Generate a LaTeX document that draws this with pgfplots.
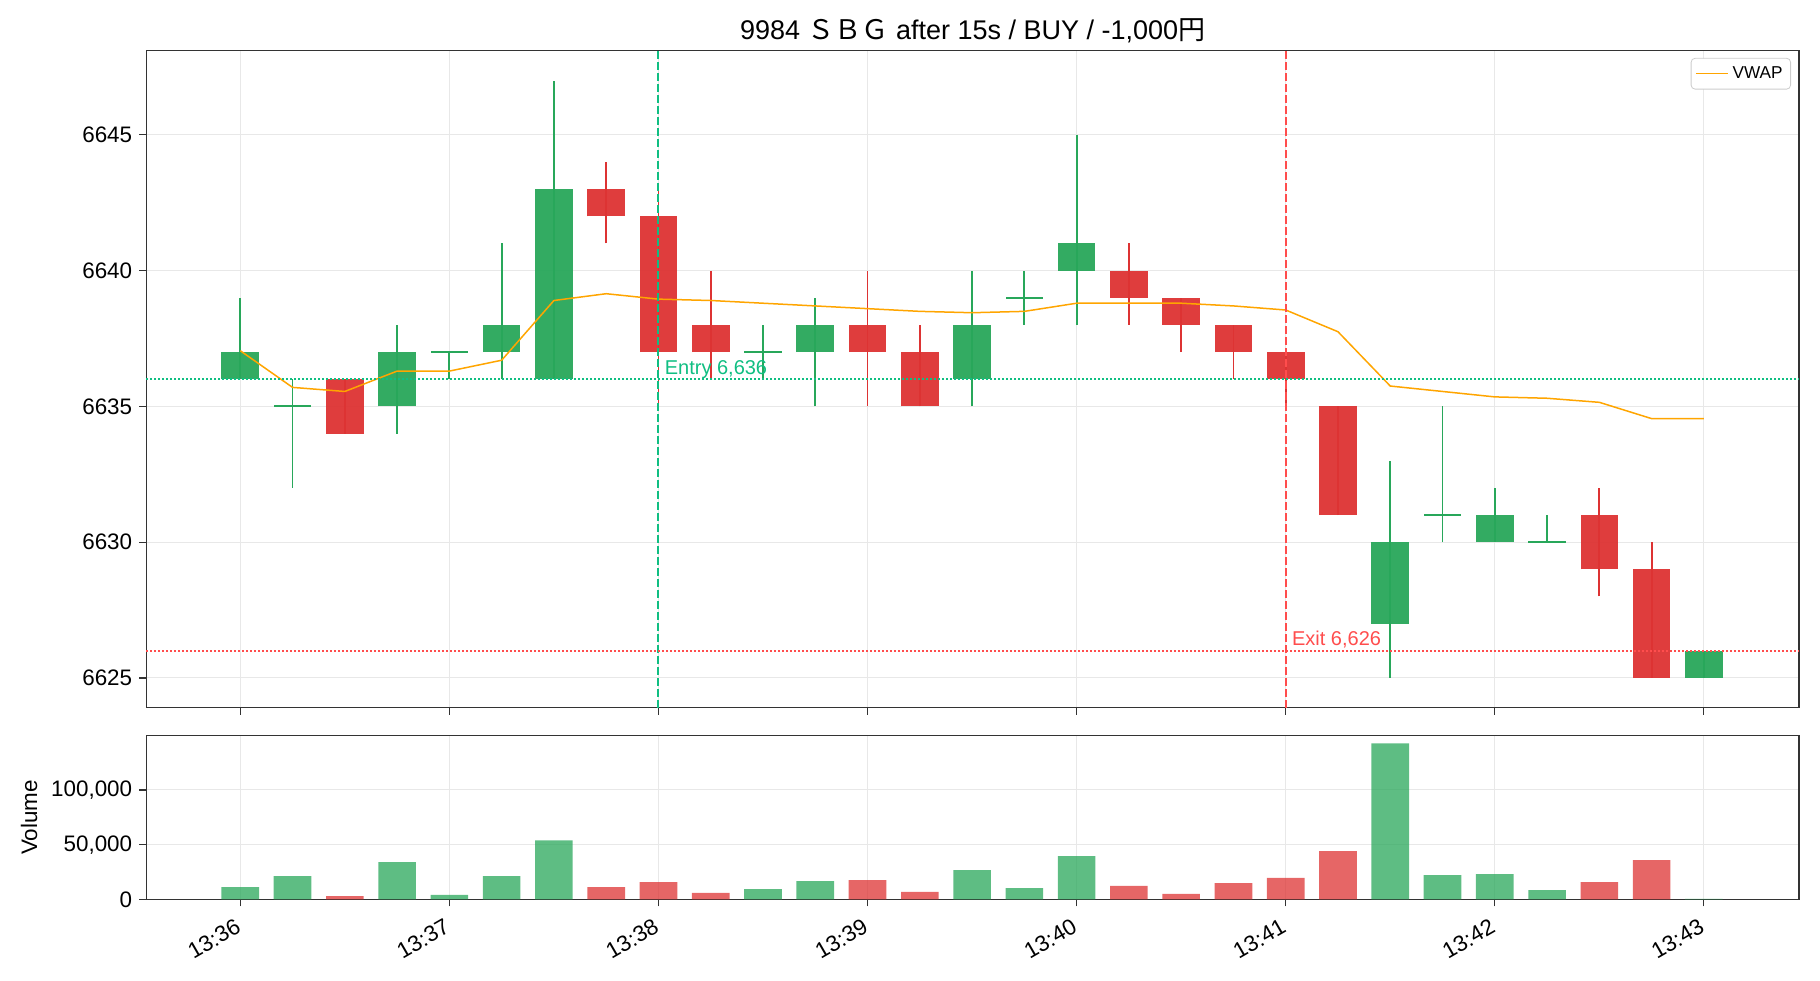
\documentclass[border=0pt]{standalone}
\usepackage{fontspec}
\setmainfont{Liberation Sans}
\newfontfamily\cjk{Noto Sans CJK JP}
\usepackage{pgfplots}
\pgfplotsset{compat=1.18}
\usepackage{pgfplotstable}

\definecolor{cup}{RGB}{40,167,90}
\definecolor{cdn}{RGB}{221,51,51}
\definecolor{centry}{RGB}{16,190,130}
\definecolor{cexit}{RGB}{255,77,77}
\definecolor{cvwap}{RGB}{255,165,0}
\definecolor{axc}{RGB}{51,51,51}

% up candles (close > open)
\pgfplotstableread{
x O H L C
0 6636 6639 6636 6637
3 6635 6638 6634 6637
5 6637 6641 6636 6638
6 6636 6647 6636 6643
11 6637 6639 6635 6638
14 6636 6640 6635 6638
16 6640 6645 6638 6641
22 6627 6633 6625 6630
24 6630 6632 6630 6631
28 6625 6626 6625 6626
}\upT

% doji candles (close = open)
\pgfplotstableread{
x O H L C
1 6635 6636 6632 6635
4 6637 6637 6636 6637
10 6637 6638 6636 6637
15 6639 6640 6638 6639
23 6631 6635 6630 6631
25 6630 6631 6630 6630
}\dojiT

% down candles (close < open)
\pgfplotstableread{
x O H L C
2 6636 6636 6634 6634
7 6643 6644 6641 6642
8 6642 6643 6635 6637
9 6638 6640 6636 6637
12 6638 6640 6635 6637
13 6637 6638 6635 6635
17 6640 6641 6638 6639
18 6639 6639 6637 6638
19 6638 6638 6636 6637
20 6637 6637 6635 6636
21 6635 6635 6631 6631
26 6631 6632 6628 6629
27 6629 6630 6625 6625
}\dnT

\pgfplotstableread{
x v
0 6637.05
1 6635.7
2 6635.55
3 6636.3
4 6636.3
5 6636.7
6 6638.9
7 6639.15
8 6638.95
9 6638.9
10 6638.8
11 6638.7
12 6638.6
13 6638.5
14 6638.45
15 6638.5
16 6638.8
17 6638.8
18 6638.8
19 6638.7
20 6638.55
21 6637.75
22 6635.75
23 6635.55
24 6635.35
25 6635.3
26 6635.15
27 6634.55
28 6634.55
}\vwapT

\pgfplotstableread{
x vol
0 11200
1 21300
3 34000
4 4000
5 21300
6 54000
10 9400
11 16700
14 26700
15 10300
16 39500
22 142500
23 22200
24 23100
25 8500
28 400
}\volUpT

\pgfplotstableread{
x vol
2 3000
7 11200
8 15800
9 5800
12 17600
13 6700
17 12200
18 4900
19 14900
20 19500
21 44000
26 15800
27 35900
}\volDnT

\pgfplotsset{
  common/.style={
    scale only axis,
    width=826.4pt,
    xmin=-1.8, xmax=29.82,
    xtick={0,4,...,28},
    axis line style={axc, line width=0.7pt},
    tick style={axc, line width=0.6pt},
    major tick length=3.5pt,
    tick align=outside,
    xtick pos=bottom, ytick pos=left,
    grid=major,
    major grid style={black!9, line width=0.5pt},
    tick label style={font=\fontsize{11.2}{12}\selectfont, text=black},
  },
  wick/.style={draw=none, mark=none, forget plot,
    error bars/.cd, y dir=plus, y explicit, error mark=none,
    error bar style={draw=#1, line width=0.9pt, solid}},
  body/.style={draw=none, mark=none, forget plot,
    error bars/.cd, y dir=plus, y explicit, error mark=none,
    error bar style={draw=#1, draw opacity=0.95, line width=18.8pt, solid}},
}

\begin{document}
\begin{tikzpicture}
\useasboundingbox (0,0) rectangle (910pt,490pt);
\begin{axis}[common,
  at={(73.1pt,136.1pt)}, anchor=south west,
  height=328.55pt,
  ymin=6623.9, ymax=6648.1,
  xticklabels={},
  ytick={6625,6630,6635,6640,6645},
  yticklabels={6625,6630,6635,6640,6645},
  title={9984 {\cjk ＳＢＧ} after 15s / BUY / -1,000{\cjk 円}},
  title style={anchor=base, yshift=-0.3pt, font=\fontsize{13.5}{14}\selectfont},
  legend style={at={(1,1)}, anchor=north east, xshift=-4pt, yshift=-3.6pt,
    draw=black!20, rounded corners=2pt, fill=white, font=\fontsize{8.6}{9}\selectfont,
    inner sep=2pt},
  legend image code/.code={\draw[#1] (0pt,0pt) -- (16pt,0pt);},
]
% wicks
\addplot[wick=cup] table[x=x, y=L, y error plus expr={\thisrow{H}-\thisrow{L}}] {\upT};
\addplot[wick=cup] table[x=x, y=L, y error plus expr={\thisrow{H}-\thisrow{L}}] {\dojiT};
\addplot[wick=cdn] table[x=x, y=L, y error plus expr={\thisrow{H}-\thisrow{L}}] {\dnT};
% bodies
\addplot[body=cup] table[x=x, y=O, y error plus expr={\thisrow{C}-\thisrow{O}}] {\upT};
\addplot[body=cdn] table[x=x, y=C, y error plus expr={\thisrow{O}-\thisrow{C}}] {\dnT};
% doji bodies
\addplot[draw=none, mark=none, forget plot,
  error bars/.cd, x dir=both, x explicit, error mark=none,
  error bar style={draw=cup, line width=1.1pt, solid}]
  table[x=x, y=C, x error expr={0.36}] {\dojiT};
% VWAP
\addplot[cvwap, line width=0.75pt, mark=none] table[x=x, y=v] {\vwapT};
\addlegendentry{VWAP}
% entry / exit lines
\addplot[centry, line width=1pt, dash pattern=on 4pt off 1.5pt, forget plot] coordinates {(8,6623.9) (8,6648.1)};
\addplot[cexit, line width=1pt, dash pattern=on 4pt off 1.5pt, forget plot] coordinates {(20,6623.9) (20,6648.1)};
\addplot[centry, line width=0.8pt, dash pattern=on 1pt off 1pt, forget plot] coordinates {(-1.8,6636) (29.82,6636)};
\addplot[cexit, line width=0.8pt, dash pattern=on 1pt off 1pt, forget plot] coordinates {(-1.8,6626) (29.82,6626)};
\node[anchor=base west, inner sep=0pt, xshift=3pt, yshift=2.6pt, text=centry, font=\fontsize{10}{11}\selectfont] at (axis cs:8,6636) {Entry 6,636};
\node[anchor=base west, inner sep=0pt, xshift=3pt, yshift=2.4pt, text=cexit, font=\fontsize{10}{11}\selectfont] at (axis cs:20,6626) {Exit 6,626};
\end{axis}

\begin{axis}[common,
  at={(73.1pt,40.35pt)}, anchor=south west,
  height=81.8pt,
  ymin=0, ymax=149625,
  scaled y ticks=false,
  ytick={0,50000,100000},
  yticklabels={0,{50,000},{100,000}},
  xticklabels={13:36,13:37,13:38,13:39,13:40,13:41,13:42,13:43},
  xticklabel style={rotate=30, anchor=north east, xshift=-2pt, font=\fontsize{11.2}{12}\selectfont},
  ylabel={Volume},
  ylabel style={font=\fontsize{11.2}{12}\selectfont},
]
\addplot[ybar, bar width=0.72, bar shift=0pt, fill=cup, fill opacity=0.75, draw=none] table[x=x, y=vol] {\volUpT};
\addplot[ybar, bar width=0.72, bar shift=0pt, fill=cdn, fill opacity=0.75, draw=none] table[x=x, y=vol] {\volDnT};
\end{axis}
\end{tikzpicture}
\end{document}
